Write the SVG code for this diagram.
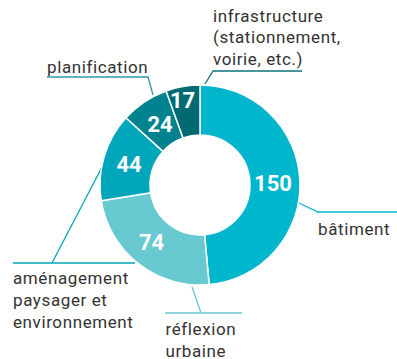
<svg xmlns="http://www.w3.org/2000/svg" width="397" height="359" viewBox="0 0 397 359">
<style>
.seg{stroke:#ffffff;stroke-width:1.5;stroke-linejoin:round}
.lbl{font-family:Roboto,"Liberation Sans",sans-serif;font-size:17px;letter-spacing:0.6px;fill:#333333}
.num{font-family:Roboto,"Liberation Sans",sans-serif;font-size:22px;font-weight:bold;fill:#ffffff;text-anchor:middle}
.ld{fill:none;stroke-width:1.3}
</style>
<rect width="397" height="359" fill="#ffffff"/>
<g id="connectors">
<polyline class="ld" stroke="#0f737d" points="205,84 213,71 302,71"/>
<polyline class="ld" stroke="#2f9aa6" points="47,77 148,77 153,95"/>
<polyline class="ld" stroke="#00b6cc" points="299,203 318,212 397,212"/>
<polyline class="ld" stroke="#00a6b9" points="13,263 135,263"/>
<polyline class="ld" stroke="#00a6b9" points="52,263 101.5,168"/>
<polyline class="ld" stroke="#69c9d0" points="165,313 242,313"/>
<polyline class="ld" stroke="#69c9d0" points="192,287 201,313"/>
</g>
<g id="batiment">
<path class="seg" fill="#00b6cc" d="M200,85 A100,100 0 0 1 209.14,284.58 L204.57,234.79 A50,50 0 0 0 200,135 Z"/>
<text class="num" x="273" y="191">150</text>
<text class="lbl" x="318" y="235">bâtiment</text>
</g>
<g id="reflexion">
<path class="seg" fill="#69c9d0" d="M209.14,284.58 A100,100 0 0 1 101.24,200.69 L150.62,192.85 A50,50 0 0 0 204.57,234.79 Z"/>
<text class="num" x="151.5" y="250">74</text>
<text class="lbl" x="165.5" y="335">réflexion</text>
<text class="lbl" x="165.5" y="356.5">urbaine</text>
</g>
<g id="amenagement">
<path class="seg" fill="#00a6b9" d="M101.24,200.69 A100,100 0 0 1 125.96,117.79 L162.98,151.39 A50,50 0 0 0 150.62,192.85 Z"/>
<text class="num" x="129" y="172">44</text>
<text class="lbl" x="13" y="284">aménagement</text>
<text class="lbl" x="13" y="306">paysager et</text>
<text class="lbl" x="13" y="328">environnement</text>
</g>
<g id="planification">
<path class="seg" fill="#00838f" d="M125.96,117.79 A100,100 0 0 1 166.12,90.92 L183.06,137.96 A50,50 0 0 0 162.98,151.39 Z"/>
<text class="num" x="160" y="132">24</text>
<text class="lbl" x="47" y="72.5">planification</text>
</g>
<g id="infrastructure">
<path class="seg" fill="#006a73" d="M166.12,90.92 A100,100 0 0 1 200,85 L200,135 A50,50 0 0 0 183.06,137.96 Z"/>
<text class="num" x="182.5" y="108">17</text>
<text class="lbl" x="213" y="21.5">infrastructure</text>
<text class="lbl" x="213" y="43">(stationnement,</text>
<text class="lbl" x="213" y="64.5">voirie, etc.)</text>
</g>
</svg>
